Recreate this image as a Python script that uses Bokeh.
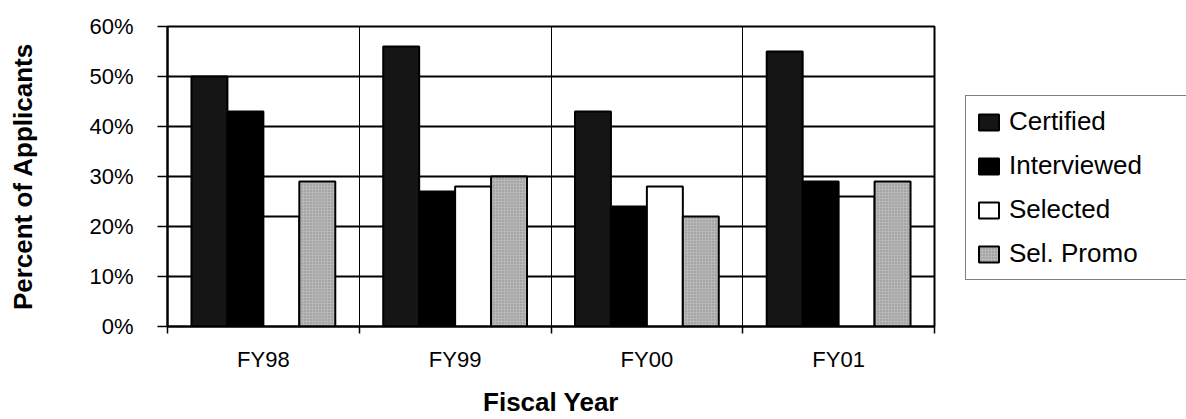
from bokeh.plotting import figure
from bokeh.layouts import row
from bokeh.models import Range1d, FixedTicker, PrintfTickFormatter, Legend, LegendItem
from bokeh.embed import file_html
from bokeh.resources import INLINE

years = ["FY98", "FY99", "FY00", "FY01"]
series = ["Certified", "Interviewed", "Selected", "Sel. Promo"]
certified = [50, 56, 43, 55]
interviewed = [43, 27, 24, 29]
selected = [22, 28, 28, 26]
sel_promo = [29, 30, 22, 29]
y_ticks = [0, 10, 20, 30, 40, 50, 60]

values = [certified, interviewed, selected, sel_promo]
fills = ["#151515", "#000000", "#ffffff", "#b8b8b8"]
bar_w = 0.1875
offsets = [-1.5 * bar_w, -0.5 * bar_w, 0.5 * bar_w, 1.5 * bar_w]
FONT = "Liberation Sans"


def bar_style(fc):
    kw = dict(fill_color=fc, line_color="black", line_width=2)
    if fc == "#b8b8b8":
        kw.update(hatch_pattern=".", hatch_color="#5a5a5a", hatch_scale=3, hatch_alpha=0.5)
    return kw


p = figure(width=952, height=419, output_backend="svg", toolbar_location=None,
           x_range=Range1d(0, len(years)), y_range=Range1d(0, 60),
           min_border_left=167, min_border_right=18, min_border_top=26, min_border_bottom=92)
p.background_fill_color = "white"
p.border_fill_color = "white"
p.outline_line_color = "black"
p.outline_line_width = 2

for vals, fc, off in zip(values, fills, offsets):
    xs = [i + 0.5 + off for i in range(len(years))]
    p.vbar(x=xs, top=vals, bottom=0, width=bar_w, **bar_style(fc))

# axes
tick_pos = [i + 0.5 for i in range(len(years))]
p.xaxis.ticker = FixedTicker(ticks=tick_pos, minor_ticks=list(range(len(years) + 1)))
p.xaxis.major_label_overrides = {t: y for t, y in zip(tick_pos, years)}
p.xaxis.major_tick_in = 0
p.xaxis.major_tick_out = 0
p.xaxis.minor_tick_in = 0
p.xaxis.minor_tick_out = 7
p.xaxis.minor_tick_line_color = "black"
p.xaxis.minor_tick_line_width = 1.5
p.xaxis.axis_line_color = "black"
p.xaxis.axis_line_width = 2
p.xaxis.major_label_text_font = FONT
p.xaxis.major_label_text_font_size = "22px"
p.xaxis.major_label_text_color = "black"
p.xaxis.major_label_standoff = 13
p.xaxis.axis_label = "Fiscal Year"
p.xaxis.axis_label_text_font = FONT
p.xaxis.axis_label_text_font_size = "26px"
p.xaxis.axis_label_text_font_style = "bold"
p.xaxis.axis_label_text_color = "black"
p.xaxis.axis_label_standoff = 12

p.yaxis.ticker = FixedTicker(ticks=y_ticks)
p.yaxis.formatter = PrintfTickFormatter(format="%d%%")
p.yaxis.major_tick_in = 0
p.yaxis.major_tick_out = 10
p.yaxis.major_tick_line_color = "black"
p.yaxis.major_tick_line_width = 1.5
p.yaxis.minor_tick_line_color = None
p.yaxis.axis_line_color = "black"
p.yaxis.axis_line_width = 2
p.yaxis.major_label_text_font = FONT
p.yaxis.major_label_text_font_size = "22px"
p.yaxis.major_label_text_color = "black"
p.yaxis.major_label_standoff = 24
p.yaxis.axis_label = "Percent of Applicants"
p.yaxis.axis_label_text_font = FONT
p.yaxis.axis_label_text_font_size = "26px"
p.yaxis.axis_label_text_font_style = "bold"
p.yaxis.axis_label_text_color = "black"
p.yaxis.axis_label_standoff = 48

# grids
p.xgrid.ticker = FixedTicker(ticks=list(range(1, len(years))))
p.xgrid.grid_line_color = "black"
p.xgrid.grid_line_width = 1
p.ygrid.ticker = FixedTicker(ticks=y_ticks)
p.ygrid.grid_line_color = "black"
p.ygrid.grid_line_width = 2

# legend panel (its frame is aligned with the main plot's frame by the row layout)
lg = figure(width=234, height=419, output_backend="svg", toolbar_location=None,
            x_axis_location=None, y_axis_location=None,
            x_range=Range1d(0, 1), y_range=Range1d(0, 1),
            min_border_left=0, min_border_right=0, min_border_top=0, min_border_bottom=0)
lg.outline_line_color = None
lg.grid.visible = False
lg.background_fill_color = "white"
lg.border_fill_color = "white"
# tiny swatch renderers hidden behind the legend box; they only supply legend glyphs
leg_renderers = [lg.vbar(x=[0.5], top=[0.5], bottom=[0.48], width=0.05, **bar_style(fc)) for fc in fills]

legend = Legend(items=[LegendItem(label=s, renderers=[r]) for s, r in zip(series, leg_renderers)],
                location=(13, 46), orientation="vertical", margin=0, padding=10, spacing=13,
                label_height=28, glyph_height=20, glyph_width=25, label_standoff=8, label_width=200,
                border_line_color="black", border_line_width=1.5, background_fill_color="white",
                background_fill_alpha=1.0,
                label_text_font=FONT, label_text_font_size="26px", label_text_color="black")
lg.add_layout(legend, "center")

layout = row(p, lg, spacing=0)
open("out.html", "w").write(file_html(layout, INLINE))
